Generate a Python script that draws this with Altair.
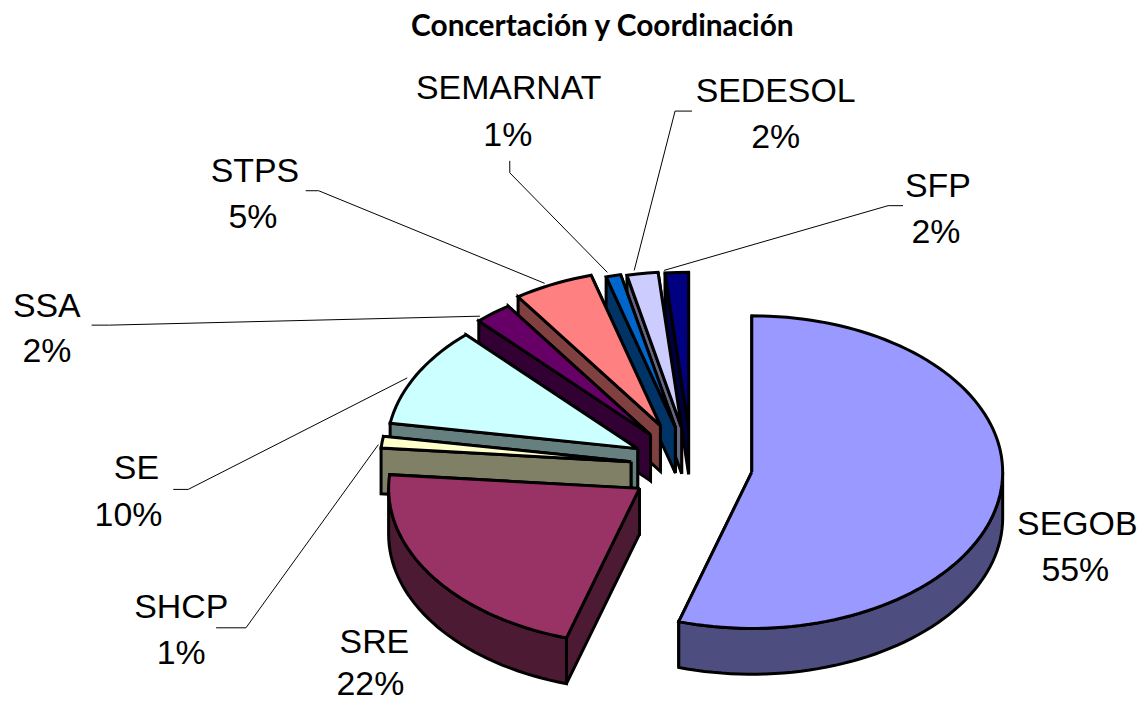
import math
import altair as alt
import pandas as pd

TITLE = "Concertación y Coordinación"
names = ["SEGOB", "SRE", "SHCP", "SE", "SSA", "STPS", "SEMARNAT", "SEDESOL", "SFP"]
shares = [54.7, 21.7, 1.2, 10.4, 2.4, 5.15, 0.95, 2.0, 1.5]
percent_labels = ["55%", "22%", "1%", "10%", "2%", "5%", "1%", "2%", "2%"]
top_colors = ["#9999FF", "#993366", "#FFFFCC", "#CCFFFF", "#660066", "#FF8080", "#0066CC", "#CCCCFF", "#000080"]
side_colors = ["#4D4D80", "#4D1A33", "#808066", "#668080", "#330033", "#804040", "#003366", "#666680", "#000040"]
explode = [0.243, 0.25, 0.243, 0.243, 0.26, 0.29, 0.26, 0.25, 0.243]

# pie projection (reference pixels)
CX, CY, RX, RY, DEPTH = 692.5, 467, 252, 157, 46
W, H = 1130, 687

# label centres: (x, y of name), (x, y of percentage)
label_pos = {
    "SEGOB": (1080, 526, 1078, 572), "SRE": (374, 644, 370, 687), "SHCP": (180, 609, 180, 655),
    "SE": (135, 470, 127, 517), "SSA": (45, 307, 45, 352), "STPS": (254, 171, 252, 217),
    "SEMARNAT": (509, 88, 508, 135), "SEDESOL": (777, 91, 777, 137), "SFP": (940, 186, 938, 232),
}
leaders = {
    "SHCP": [(215, 629), (245, 629), (378, 445)],
    "SE": [(172, 490), (187, 490), (407, 378)],
    "SSA": [(90, 325), (108, 325), (480, 316)],
    "STPS": [(305, 190), (318, 190), (545, 283)],
    "SEMARNAT": [(510, 160), (510, 172), (608, 272)],
    "SEDESOL": [(693, 110), (676, 110), (635, 270)],
    "SFP": [(905, 205), (890, 205), (665, 270)],
}


def pt(ax, ay, deg):
    r = math.radians(deg)
    return ax + RX * math.sin(r), ay - RY * math.cos(r)


rows = []
poly_id = [0]


def add(points, fill):
    closed = list(points) + [points[0]]
    for i, (x, y) in enumerate(closed):
        rows.append({"poly": poly_id[0], "i": i, "x": x, "y": y, "fill": fill})
    poly_id[0] += 1


start = 0.0
spans = []
for s in shares:
    spans.append((start, start + s * 3.6))
    start += s * 3.6

# painter's order: back slices first, nearest last
for idx in range(len(names) - 1, -1, -1):
    a0, a1 = spans[idx]
    mid = math.radians((a0 + a1) / 2)
    ax = CX + explode[idx] * RX * math.sin(mid)
    ay = CY - explode[idx] * RY * math.cos(mid)
    steps = max(2, int((a1 - a0) / 2))
    arc = [pt(ax, ay, a0 + (a1 - a0) * k / steps) for k in range(steps + 1)]
    # radial walls: hidden one first, visible one over it
    for tip in (arc[-1], arc[0]):
        add([(ax, ay), tip, (tip[0], tip[1] + DEPTH), (ax, ay + DEPTH)], side_colors[idx])
    # outer wall: only the front half of the ellipse faces the viewer
    f0, f1 = max(a0, 90), min(a1, 270)
    if f1 > f0:
        n = max(2, int((f1 - f0) / 2))
        front = [pt(ax, ay, f0 + (f1 - f0) * k / n) for k in range(n + 1)]
        add(front + [(x, y + DEPTH) for x, y in reversed(front)], side_colors[idx])
    add([(ax, ay)] + arc, top_colors[idx])

df = pd.DataFrame(rows)

x_scale = alt.Scale(domain=[6, 6 + W], range=[0, W], nice=False, zero=False)
y_scale = alt.Scale(domain=[8 + H, 8], range=[H, 0], nice=False, zero=False)
X = alt.X("x:Q", scale=x_scale, axis=None)
Y = alt.Y("y:Q", scale=y_scale, axis=None)

faces = alt.Chart(df).mark_line(stroke="black", strokeWidth=3, strokeJoin="miter", interpolate="linear").encode(
    x=X, y=Y, order="i:Q", detail="poly:N",
    fill=alt.Fill("fill:N", scale=None),
)

lead_rows = []
for n, pts in leaders.items():
    for i, (x, y) in enumerate(pts):
        lead_rows.append({"name": n, "i": i, "x": x, "y": y})
lead = alt.Chart(pd.DataFrame(lead_rows)).mark_line(color="black", strokeWidth=1).encode(
    x=X, y=Y, order="i:Q", detail="name:N"
)

text_rows = []
for n, p in zip(names, percent_labels):
    x1, y1, x2, y2 = label_pos[n]
    text_rows.append({"t": n, "x": x1, "y": y1})
    text_rows.append({"t": p, "x": x2, "y": y2})
labels = alt.Chart(pd.DataFrame(text_rows)).mark_text(
    font="Liberation Sans", fontSize=34, baseline="middle", align="center", color="black"
).encode(x=X, y=Y, text="t:N")

title = alt.Chart(pd.DataFrame({"t": [TITLE], "x": [603], "y": [26]})).mark_text(
    font="Lato", fontWeight="bold", fontSize=30, baseline="middle", align="center", color="black"
).encode(x=X, y=Y, text="t:N")

chart = alt.layer(lead, faces, labels, title).properties(
    width=W, height=H, padding=0, background="white"
).configure_view(stroke=None)

chart.save("out.html", embed_options={"renderer": "svg", "actions": False})
